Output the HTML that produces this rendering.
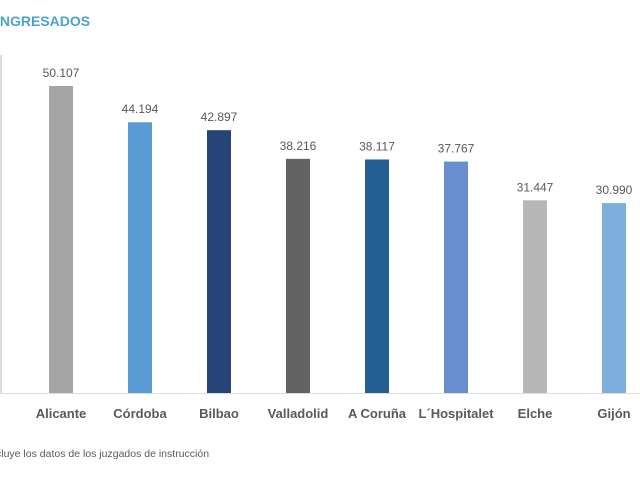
<!DOCTYPE html>
<html><head><meta charset="utf-8"><style>
body{margin:0;width:640px;height:480px;background:#fff;overflow:hidden;font-family:"Liberation Sans",sans-serif}
</style></head><body>
<svg width="640" height="480">
<text x="-4" y="26" font-size="14" font-weight="bold" fill="#4ba3c7">INGRESADOS</text>
<line x1="1" y1="55" x2="1" y2="393" stroke="#bbb"/>
<line x1="0" y1="393.5" x2="640" y2="393.5" stroke="#ddd"/>
<g id="bars"></g>
<text x="-4" y="457" font-size="10.5" fill="#595959">cluye los datos de los juzgados de instrucción</text>
</svg>
<script>
const categories=["Alicante","Córdoba","Bilbao","Valladolid","A Coruña","L´Hospitalet","Elche","Gijón"];
const values=[50107,44194,42897,38216,38117,37767,31447,30990];
const labels=["50.107","44.194","42.897","38.216","38.117","37.767","31.447","30.990"];
const colors=["#a5a5a5","#5b9bd5","#264478","#636363","#255e91","#698ed0","#b7b7b7","#7cafdd"];
const base=393,scale=307/50107;
const x=i=>61+i*79, y=v=>base-v*scale;
const g=document.getElementById('bars'),NS="http://www.w3.org/2000/svg";
categories.forEach((c,i)=>{
 const r=document.createElementNS(NS,'rect');
 
 
 r.setAttribute('x',x(i)-12);r.setAttribute('width',24);
 r.setAttribute('y',y(values[i]));r.setAttribute('height',base-y(values[i]));
 r.setAttribute('fill',colors[i]);g.appendChild(r);
 const t=document.createElementNS(NS,'text');
 
 
 t.setAttribute('x',x(i));t.setAttribute('y',y(values[i])-9);
 t.setAttribute('text-anchor','middle');t.setAttribute('font-size','12');t.setAttribute('fill','#595959');
 t.textContent=labels[i];g.appendChild(t);
 const l=document.createElementNS(NS,'text');
 
 
 l.setAttribute('x',x(i));l.setAttribute('y',418);
 l.setAttribute('text-anchor','middle');l.setAttribute('font-size','13');l.setAttribute('font-weight','bold');l.setAttribute('fill','#595959');
 l.textContent=c;g.appendChild(l);
});
</script>
</body></html>
